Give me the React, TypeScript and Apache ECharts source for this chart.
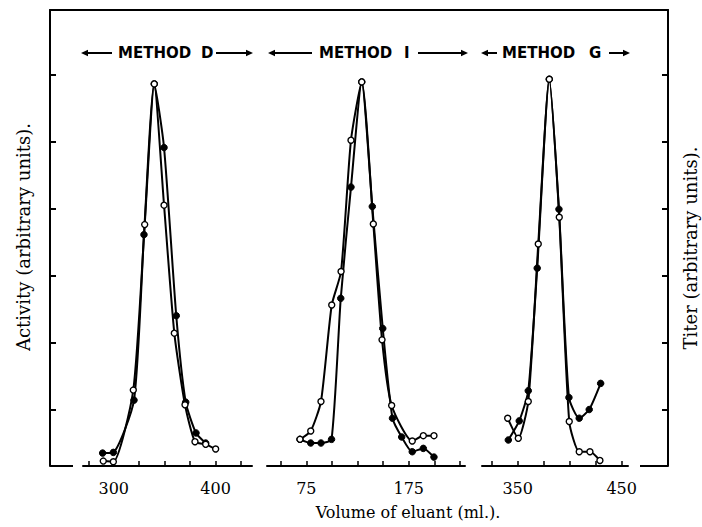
import React, { useEffect, useRef } from "react";
import * as echarts from "echarts";

// ---- data (volume, arbitrary units) ----
const yTicks = [1, 2, 3, 4, 5, 6];
const yMin = 0.157;
const yMax = 6.963;

const dTicks = [275, 300, 325, 350, 375, 400, 425];
const dLabels = [300, 400];
const iTicks = [50, 75, 100, 125, 150, 175, 200, 225];
const iLabels = [75, 175];
const gTicks = [325, 350, 375, 400, 425, 450];
const gLabels = [350, 450];

const methodDFilled = [
  [289.1, 0.35], [299.6, 0.36], [319.9, 1.14], [329.7, 3.61], [339.8, 5.86],
  [349.4, 4.91], [361.4, 2.4], [370.7, 1.11], [380.8, 0.65], [390.3, 0.5],
];
const methodDOpen = [
  [289.7, 0.23], [299.6, 0.22], [319.2, 1.29], [330.4, 3.76], [339.8, 5.86],
  [349.4, 4.05], [359.5, 2.14], [370.0, 1.07], [379.8, 0.52], [390.3, 0.48], [400.1, 0.41],
];
const methodIFilled = [
  [68.8, 0.555], [79.3, 0.5], [89.3, 0.5], [99.6, 0.555], [108.6, 2.66], [118.6, 4.32],
  [129.1, 5.89], [139.4, 4.03], [149.6, 2.21], [159.1, 0.87], [168.1, 0.59],
  [178.4, 0.37], [189.2, 0.42], [199.6, 0.29],
];
const methodIOpen = [
  [68.8, 0.555], [79.3, 0.68], [89.3, 1.12], [99.8, 2.56], [108.9, 3.06], [118.6, 5.02],
  [129.1, 5.89], [140.4, 3.77], [148.9, 2.04], [158.3, 1.06], [178.4, 0.53],
  [189.2, 0.61], [199.6, 0.61],
];
const methodGFilled = [
  [341.0, 0.545], [351.5, 0.83], [360.2, 1.28], [368.8, 3.11], [380.4, 5.93],
  [389.7, 3.99], [399.3, 1.18], [409.2, 0.87], [418.8, 1.0], [429.8, 1.39],
];
const methodGOpen = [
  [340.4, 0.87], [350.6, 0.57], [360.2, 1.12], [369.8, 3.47], [380.4, 5.93],
  [390.0, 3.87], [399.6, 0.82], [409.2, 0.37], [419.5, 0.37], [429.1, 0.24],
];

const BLACK = "#000";
const SERIF = "'DejaVu Serif', 'Liberation Serif', serif";
const SANS = "'DejaVu Sans', sans-serif";

function arrow(x1: number, x2: number, y: number, dir: "left" | "right") {
  const head = 7;
  const half = 3.2;
  const tip = dir === "left" ? x1 : x2;
  const back = dir === "left" ? x1 + head : x2 - head;
  return [
    {
      type: "line",
      shape: { x1: dir === "left" ? back : x1, y1: y, x2: dir === "left" ? x2 : back, y2: y },
      style: { stroke: BLACK, lineWidth: 2 },
    },
    {
      type: "polygon",
      shape: { points: [[tip, y], [back, y - half], [back, y + half]] },
      style: { fill: BLACK },
    },
  ];
}

function label(text: string, x: number, y: number) {
  return {
    type: "text",
    x,
    y,
    style: {
      text,
      fill: BLACK,
      font: `bold 15px ${SANS}`,
      textAlign: "left",
      textVerticalAlign: "middle",
    },
  };
}

function panelX(gridIndex: number, min: number, max: number, ticks: number[], labels: number[]) {
  return {
    type: "value",
    gridIndex,
    position: "bottom",
    min,
    max,
    axisLine: { show: true, onZero: false, lineStyle: { color: BLACK, width: 2 } },
    axisTick: { show: true, inside: true, length: 5, customValues: ticks, lineStyle: { color: BLACK, width: 1.5 } },
    axisLabel: {
      show: true,
      customValues: labels,
      color: BLACK,
      fontFamily: SERIF,
      fontSize: 16,
      margin: 14,
    },
    splitLine: { show: false },
  };
}

function hiddenY(gridIndex: number) {
  return { type: "value", gridIndex, min: yMin, max: yMax, show: false };
}

function lineSeries(idx: number, data: number[][], filled: boolean) {
  return {
    type: "line",
    xAxisIndex: idx,
    yAxisIndex: idx + 1,
    data,
    smooth: 0.2,
    symbol: "circle",
    symbolSize: filled ? 6.5 : 6,
    showSymbol: true,
    lineStyle: { color: BLACK, width: 2 },
    itemStyle: filled
      ? { color: BLACK, borderColor: BLACK, borderWidth: 1 }
      : { color: "#fff", borderColor: BLACK, borderWidth: 1.4 },
    z: filled ? 3 : 4,
    silent: true,
  };
}

function vText(text: string, x: number, y: number) {
  return {
    type: "text",
    x,
    y,
    rotation: Math.PI / 2,
    style: {
      text,
      fill: BLACK,
      font: `18px ${SERIF}`,
      textAlign: "center",
      textVerticalAlign: "middle",
    },
  };
}

export default function App() {
  const ref = useRef<HTMLDivElement>(null);
  useEffect(() => {
    if (!ref.current) return;
    const chart = echarts.init(ref.current, undefined, { renderer: "svg" });
    const frameY = (pos: "left" | "right") => ({
      type: "value",
      gridIndex: 0,
      position: pos,
      min: yMin,
      max: yMax,
      axisLine: { show: true, lineStyle: { color: BLACK, width: 2 } },
      axisTick: { show: true, inside: true, length: 6, customValues: yTicks, lineStyle: { color: BLACK, width: 2 } },
      axisLabel: { show: false },
      splitLine: { show: false },
    });
    chart.setOption({
      animation: false,
      backgroundColor: "#fff",
      grid: [
        { left: 50, top: 10, width: 618, height: 456 },
        { left: 83, top: 10, width: 169, height: 456 },
        { left: 267, top: 10, width: 198, height: 456 },
        { left: 482, top: 10, width: 146, height: 456 },
      ],
      xAxis: [
        {
          type: "value",
          gridIndex: 0,
          position: "top",
          min: 0,
          max: 1,
          axisLine: { show: true, onZero: false, lineStyle: { color: BLACK, width: 2 } },
          axisTick: { show: false },
          axisLabel: { show: false },
          splitLine: { show: false },
        },
        panelX(1, 269.8, 435.8, dTicks, dLabels),
        panelX(2, 36.6, 229.9, iTicks, iLabels),
        panelX(3, 315.7, 456.1, gTicks, gLabels),
      ],
      yAxis: [frameY("left"), frameY("right"), hiddenY(1), hiddenY(2), hiddenY(3)],
      series: [
        lineSeries(1, methodDFilled, true),
        lineSeries(1, methodDOpen, false),
        lineSeries(2, methodIFilled, true),
        lineSeries(2, methodIOpen, false),
        lineSeries(3, methodGFilled, true),
        lineSeries(3, methodGOpen, false),
      ],
      graphic: [
        { type: "line", shape: { x1: 50, y1: 466, x2: 73, y2: 466 }, style: { stroke: BLACK, lineWidth: 2 } },
        { type: "line", shape: { x1: 640, y1: 466, x2: 668, y2: 466 }, style: { stroke: BLACK, lineWidth: 2 } },
        ...arrow(81, 112, 53, "left"),
        label("METHOD", 118, 53),
        label("D", 201, 53),
        ...arrow(216, 253, 53, "right"),
        ...arrow(268, 312, 53, "left"),
        label("METHOD", 319, 53),
        label("I", 404, 53),
        ...arrow(418, 468, 53, "right"),
        ...arrow(481, 497, 53, "left"),
        label("METHOD", 502, 53),
        label("G", 589, 53),
        ...arrow(609, 630, 53, "right"),
        vText("Activity (arbitrary units).", 23, 237),
        vText("Titer (arbitrary units).", 690, 248),
        {
          type: "text",
          x: 408,
          y: 512,
          style: {
            text: "Volume of eluant (ml.).",
            fill: BLACK,
            font: `16px ${SERIF}`,
            textAlign: "center",
            textVerticalAlign: "middle",
          },
        },
      ],
    });
    return () => chart.dispose();
  }, []);
  return (
    <div
      ref={ref}
      style={{ position: "fixed", left: 0, top: 0, width: 702, height: 527, background: "#fff" }}
    />
  );
}
